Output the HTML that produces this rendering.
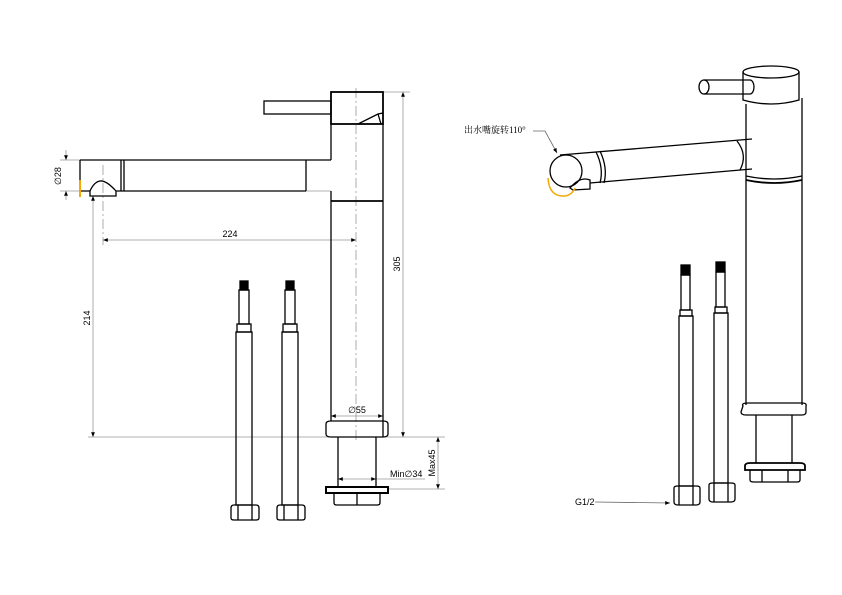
<!DOCTYPE html>
<html><head><meta charset="utf-8"><style>html,body{margin:0;padding:0;background:#fff}svg{display:block}</style></head>
<body>
<svg width="842" height="595" viewBox="0 0 842 595" xmlns="http://www.w3.org/2000/svg" font-family="Liberation Sans, sans-serif">
<defs>
<marker id="a" viewBox="0 0 10 10" refX="10" refY="5" markerWidth="6" markerHeight="6" orient="auto-start-reverse"><path d="M0,1L10,5L0,9z" fill="#000"/></marker>
</defs>
<g fill="none" stroke="#999" stroke-width="0.8">
<!-- centerlines -->
<line x1="356" y1="88" x2="356" y2="440" stroke-dasharray="10,3,2,3"/>
<line x1="103" y1="165" x2="103" y2="245" stroke-dasharray="10,3,2,3"/>
<!-- dim lines -->
<line x1="60" y1="160" x2="80" y2="160"/><line x1="60" y1="191" x2="80" y2="191"/>
<line x1="66" y1="150" x2="66" y2="160" marker-end="url(#a)"/><line x1="66" y1="200" x2="66" y2="191" marker-end="url(#a)"/>
<line x1="103" y1="240" x2="356" y2="240" marker-start="url(#a)" marker-end="url(#a)"/>
<line x1="93" y1="196" x2="93" y2="437" marker-start="url(#a)" marker-end="url(#a)"/>
<line x1="88" y1="437" x2="445" y2="437"/>
<line x1="383" y1="92" x2="410" y2="92"/>
<line x1="403" y1="92" x2="403" y2="437" marker-start="url(#a)" marker-end="url(#a)"/>
<line x1="331" y1="416" x2="383" y2="416" marker-start="url(#a)" marker-end="url(#a)"/>
<line x1="338" y1="479" x2="376" y2="479" marker-start="url(#a)" marker-end="url(#a)"/>
<line x1="376" y1="479" x2="425" y2="479"/>
<line x1="388" y1="489" x2="445" y2="489"/>
<line x1="438" y1="437" x2="438" y2="489" marker-start="url(#a)" marker-end="url(#a)"/>
<line x1="306" y1="191" x2="331" y2="191"/>
</g>
<g fill="none" stroke="#000" stroke-width="1.3">
<!-- left faucet -->
<rect x="264" y="101" width="67" height="13"/>
<rect x="331" y="92" width="52" height="32" stroke-width="1.8"/>
<path d="M358,124 L378,114 L383,113 M378,114 L381,124"/>
<path d="M331,124 V160 M383,124 V437 M331,191 V421"/>
<line x1="331" y1="201" x2="383" y2="201" stroke-width="1.8"/>
<path d="M80,160 H331 M80,160 V191 H90 M116,191 H306 M121,160 V191 M124,160 V191 M306,160 V191"/>
<path d="M90,191 V196 H116 V191 Q106,180 100,181 Q94,182 90,191"/>
<path d="M326,424 Q326,421 331,421 H383 Q388,421 388,424 V434 Q388,437 383,437 H331 Q326,437 326,434 Z"/>
<path d="M338,437 V487 M376,437 V487"/>
<rect x="326" y="487" width="62" height="6" stroke-width="2"/>
<path d="M334,493 V503 Q334,505 337,505 H377 Q380,505 380,503 V493 M357,493 V505"/>
<!-- hoses left -->
<g id="h">
<rect x="240" y="281" width="8" height="9" fill="#000"/>
<rect x="239" y="290" width="10" height="34"/>
<rect x="237" y="324" width="14" height="8"/>
<rect x="236" y="332" width="16" height="173"/>
<path d="M231,508 Q231,505 234,505 H256 Q259,505 259,508 V518 Q259,520 256,520 H234 Q231,520 231,518 Z M238,505 V520 M252,505 V520"/>
</g>
<use href="#h" x="46"/>
<!-- right faucet -->
<ellipse cx="771" cy="72" rx="28" ry="6"/>
<path d="M743,72 V100 Q771,108 799,100 V72"/>
<path d="M746,104 V405 M802,98 V405"/>
<path d="M746,180 Q774,186 802,180" stroke-width="1.8"/>
<path d="M746,176 Q774,182 802,176"/>
<path d="M704,80 H750 A4,7 0 0 1 750,94 H704"/>
<ellipse cx="704" cy="87" rx="5" ry="7"/>
<path d="M560,155 L752,139 M590,183 L752,169"/>
<path d="M737,141 Q748,155 740,170"/>
<path d="M596,152 Q604,168 600,183 M600,151 Q608,168 604,183"/>
<circle cx="566" cy="171" r="16"/>
<path d="M570,188 Q580,176 590,180 L590,189 L573,190 Z"/>
<path d="M743,406 Q741,403 748,403 H802 Q807,403 806,406 V412 Q806,415 802,415 H746 Q741,415 741,412 Z"/>
<path d="M756,415 V463 M792,415 V463"/>
<path d="M745,466 Q745,463 750,463 H800 Q805,463 805,466 V470 H745 Z" stroke-width="1.8"/>
<path d="M750,470 V480 Q750,482 754,482 H797 Q800,482 800,480 V470 M762,470 V482 M788,470 V482"/>
<g id="r">
<rect x="681" y="265" width="9" height="10" fill="#000"/>
<rect x="681" y="275" width="9" height="35"/>
<rect x="680" y="310" width="12" height="6"/>
<rect x="679" y="316" width="14" height="170"/>
<path d="M674,488 Q674,486 678,486 H696 Q700,486 700,488 V502 Q700,505 696,505 H678 Q674,505 674,502 Z M679,486 V505 M693,486 V505"/>
</g>
<use href="#r" x="35" y="-3"/>
</g>
<line x1="80" y1="180" x2="80" y2="197" stroke="#f5a800" stroke-width="2"/>
<path d="M548,178 Q549,197 565,196 Q572,195 575,188" fill="none" stroke="#f5a800" stroke-width="1.5"/>
<path d="M533,131 H545 L557,153" fill="none" stroke="#666" stroke-width="0.8" marker-end="url(#a)"/>
<line x1="595" y1="502" x2="670" y2="503" stroke="#666" stroke-width="0.8" marker-end="url(#a)"/>
<g font-size="9" fill="#000">
<text x="61" y="176" transform="rotate(-90 61 176)" text-anchor="middle">∅28</text>
<text x="230" y="237" text-anchor="middle">224</text>
<text x="90" y="318" transform="rotate(-90 90 318)" text-anchor="middle">214</text>
<text x="400" y="264" transform="rotate(-90 400 264)" text-anchor="middle">305</text>
<text x="357" y="413" text-anchor="middle">∅55</text>
<text x="390" y="477">Min∅34</text>
<text x="435" y="463" transform="rotate(-90 435 463)" text-anchor="middle">Max45</text>
<text x="464" y="133" font-family="Liberation Serif, 'Noto Serif CJK SC', serif">出水嘴旋转110°</text>
<text x="575" y="505">G1/2</text>
</g>
</svg>
</body></html>
